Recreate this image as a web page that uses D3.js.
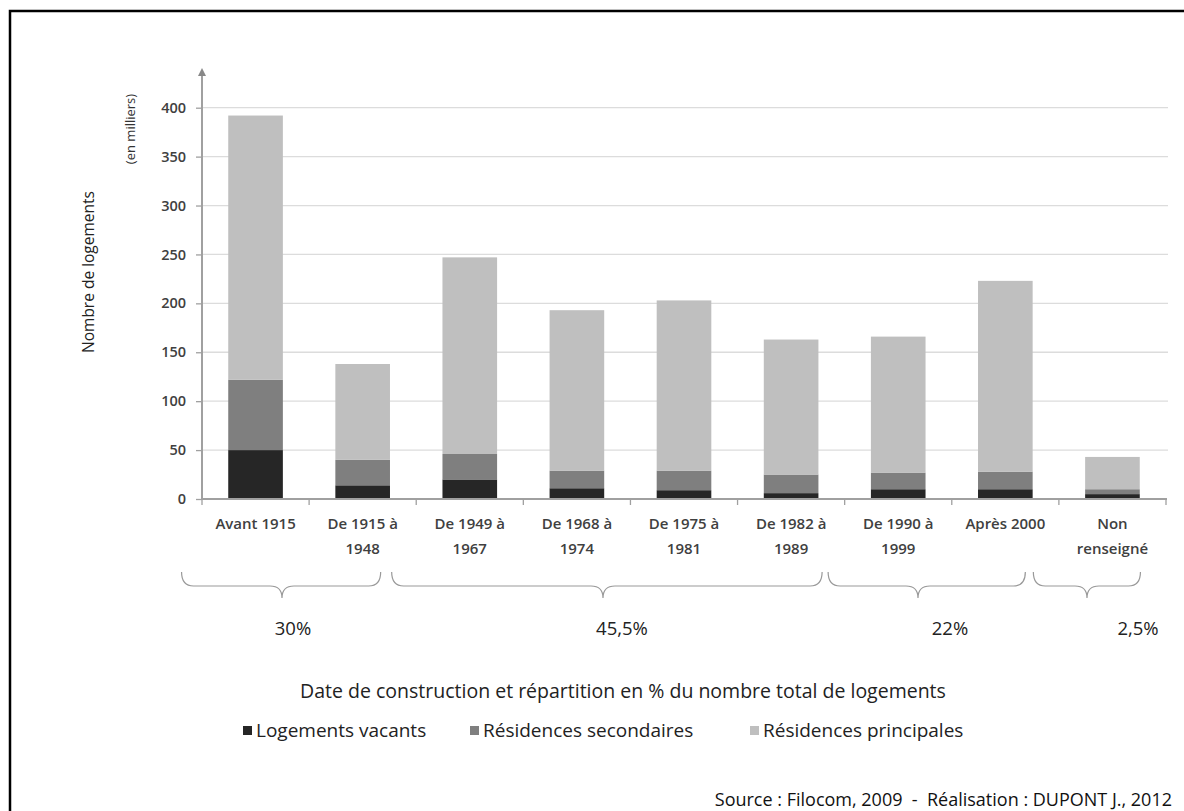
<!DOCTYPE html>
<html><head><meta charset="utf-8">
<script src="https://cdn.jsdelivr.net/npm/d3@7/dist/d3.min.js"></script>
<style>
body{margin:0;background:#fff;}
svg{display:block;font-family:"Open Sans",sans-serif;}
</style></head><body>
<svg id="c" width="1184" height="811"></svg>
<script>
const categories = [["Avant 1915"],["De 1915 à","1948"],["De 1949 à","1967"],["De 1968 à","1974"],["De 1975 à","1981"],["De 1982 à","1989"],["De 1990 à","1999"],["Après 2000"],["Non","renseigné"]];
const seriesNames = ["Logements vacants","Résidences secondaires","Résidences principales"];
const vacants     = [50, 14, 20, 11, 9, 6, 10, 10, 5];
const secondaires = [72, 26, 26, 18, 20, 19, 17, 18, 5];
const principales = [270, 98, 201, 164, 174, 138, 139, 195, 33];
const yTicks = [0,50,100,150,200,250,300,350,400];
const groupLabels = ["30%","45,5%","22%","2,5%"];
const colors = ["#262626","#7f7f7f","#bfbfbf"];

const svg = d3.select("#c");
// frame
svg.append("path").attr("d","M10,811 V11 H1184").attr("fill","none").attr("stroke","#000").attr("stroke-width",2.5);

const x0 = 202, x1 = 1166, yBase = 499, yTop = 107.7;
const x = d3.scaleBand().domain(d3.range(categories.length)).range([x0,x1]).paddingInner(0.49).paddingOuter(0.245);
const y = d3.scaleLinear().domain([0,400]).range([yBase,yTop]);

// gridlines
svg.append("g").selectAll("line").data(yTicks.filter(d=>d>0)).join("line")
  .attr("x1",x0).attr("x2",1168).attr("y1",d=>y(d)).attr("y2",d=>y(d))
  .attr("stroke","#dcdcdc").attr("stroke-width",1.3);

// stacked bars
const rows = categories.map((c,i)=>({i, v:vacants[i], s:secondaires[i], p:principales[i]}));
const stack = d3.stack().keys(["v","s","p"])(rows);
svg.append("g").selectAll("g").data(stack).join("g").attr("fill",(d,k)=>colors[k])
  .selectAll("rect").data(d=>d).join("rect")
  .attr("x",d=>x(d.data.i)).attr("width",x.bandwidth())
  .attr("y",d=>y(d[1])).attr("height",d=>y(d[0])-y(d[1]));

// y axis
const yAxis = d3.axisLeft(y).tickValues(yTicks).tickSize(6).tickPadding(10);
const gy = svg.append("g").attr("transform",`translate(${x0},0)`).call(yAxis);
gy.select(".domain").remove();
gy.selectAll(".tick line").attr("stroke","#a0a0a0").attr("stroke-width",1.3);
gy.selectAll(".tick text").attr("fill","#404040").attr("font-size",14.5).attr("font-weight",600).attr("font-family","Open Sans");
svg.append("line").attr("x1",x0).attr("x2",x0).attr("y1",yBase).attr("y2",74).attr("stroke","#a0a0a0").attr("stroke-width",2);
svg.append("path").attr("d",`M${x0-4},76 L${x0},68 L${x0+4},76 Z`).attr("fill","#888");

// x axis
const xb = d3.scaleLinear().domain([0,categories.length]).range([x0,x1]);
svg.append("line").attr("x1",x0).attr("x2",x1+1).attr("y1",yBase).attr("y2",yBase).attr("stroke","#a0a0a0").attr("stroke-width",2);
svg.append("g").selectAll("line").data(d3.range(categories.length+1)).join("line")
  .attr("x1",d=>xb(d)).attr("x2",d=>xb(d)).attr("y1",yBase).attr("y2",yBase+6)
  .attr("stroke","#a0a0a0").attr("stroke-width",1.3);
const lab = svg.append("g").selectAll("text").data(categories).join("text")
  .attr("text-anchor","middle").attr("fill","#404040").attr("font-size",15).attr("font-weight",600)
  .attr("x",(d,i)=>x(i)+x.bandwidth()/2).attr("y",529);
lab.selectAll("tspan").data(d=>d).join("tspan")
  .attr("x",function(){return this.parentNode.getAttribute("x");})
  .attr("dy",(d,j)=>j===0?0:25).text(d=>d);

// braces
const cx = i => x(i)+x.bandwidth()/2;
const braces = [
  {a: cx(0)-74, b: cx(1)+18, t: 282, lx: 293},
  {a: cx(1)+29, b: cx(5)+31, t: 603, lx: 622},
  {a: cx(5)+37, b: cx(7)+20, t: 918, lx: 950},
  {a: cx(7)+28, b: cx(8)+28, t: 1087, lx: 1138}
];
const yT = 572, yM = 586, yP = 598, r = 12;
svg.append("g").selectAll("path").data(braces).join("path")
  .attr("fill","none").attr("stroke","#999").attr("stroke-width",1.2)
  .attr("d",d=>`M${d.a},${yT} Q${d.a},${yM} ${d.a+r},${yM} L${d.t-r},${yM} Q${d.t},${yM} ${d.t},${yP} Q${d.t},${yM} ${d.t+r},${yM} L${d.b-r},${yM} Q${d.b},${yM} ${d.b},${yT}`);
svg.append("g").selectAll("text").data(braces).join("text")
  .attr("x",d=>d.lx).attr("y",635).attr("text-anchor","middle").attr("font-size",18.5).attr("fill","#222")
  .text((d,i)=>groupLabels[i]);

// y titles
svg.append("text").attr("transform","translate(94,272) rotate(-90)").attr("text-anchor","middle")
  .attr("font-size",15.5).attr("fill","#222").text("Nombre de logements");
svg.append("text").attr("transform","translate(135,129) rotate(-90)").attr("text-anchor","middle")
  .attr("font-size",13).attr("fill","#333").text("(en milliers)");

// x title
svg.append("text").attr("x",623).attr("y",698).attr("text-anchor","middle").attr("font-size",19.5).attr("fill","#222")
  .text("Date de construction et répartition en % du nombre total de logements");

// legend
const legX = [243, 470, 750];
const lg = svg.append("g").selectAll("g").data(seriesNames).join("g").attr("transform",(d,i)=>`translate(${legX[i]},726)`);
lg.append("rect").attr("width",9).attr("height",9).attr("fill",(d,i)=>colors[i]);
lg.append("text").attr("x",13).attr("y",11).attr("font-size",19).attr("fill","#222").text(d=>d);

// source
svg.append("text").attr("x",1172).attr("y",806).attr("text-anchor","end").attr("font-size",18).attr("fill","#111")
  .style("white-space","pre")
  .text("Source : Filocom, 2009  -  Réalisation : DUPONT J., 2012");
</script></body></html>
